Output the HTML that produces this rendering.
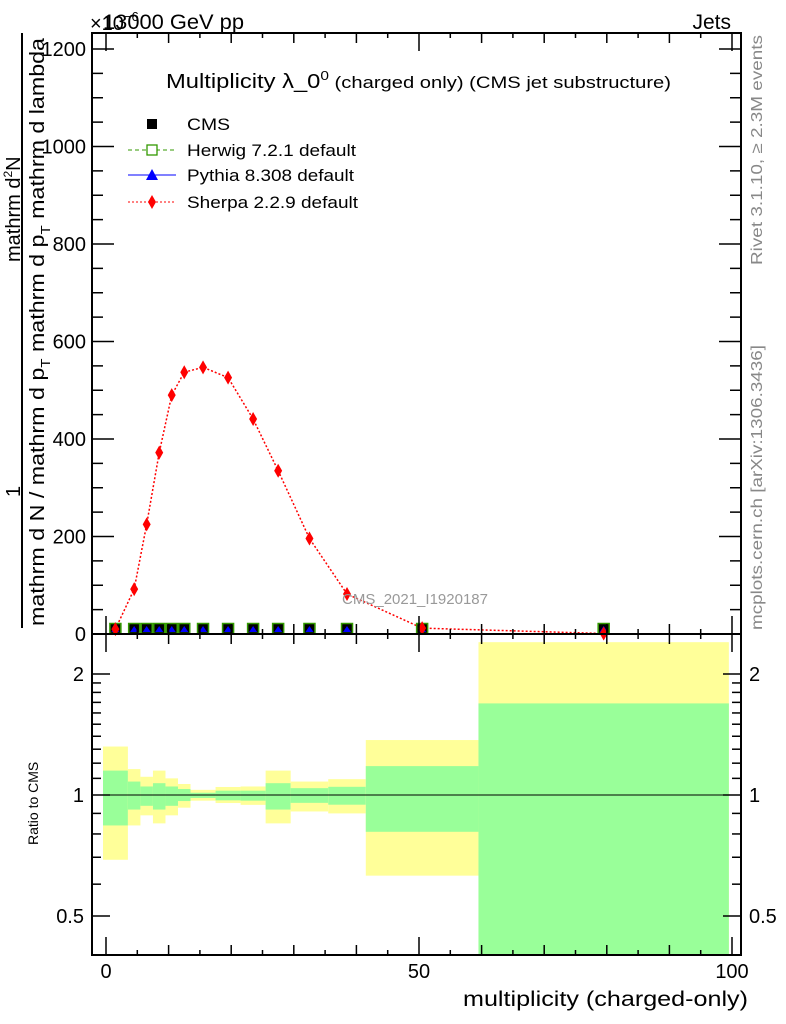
<!DOCTYPE html>
<html><head><meta charset="utf-8"><style>
html,body{margin:0;padding:0;background:#fff;}
svg{display:block;font-family:"Liberation Sans",sans-serif;}
</style></head><body>
<svg id="chart" width="786" height="1024" viewBox="0 0 786 1024" xmlns="http://www.w3.org/2000/svg">
<g id="bands"></g>
<g id="marks"></g>
<g id="axes"></g>
<text x="103" y="29" font-size="21" textLength="141" lengthAdjust="spacingAndGlyphs">13000 GeV pp</text>
<text x="90" y="30" font-size="20">×10<tspan font-size="13" dy="-9">−6</tspan></text>
<text x="731" y="29" font-size="21" text-anchor="end">Jets</text>
<text x="166" y="88" font-size="20" textLength="505" lengthAdjust="spacingAndGlyphs">Multiplicity λ_0<tspan font-size="13" dy="-8">0</tspan><tspan font-size="17" dy="8"> (charged only) (CMS jet substructure)</tspan></text>
<text x="415" y="604" font-size="15" fill="#999" text-anchor="middle">CMS_2021_I1920187</text>
<text transform="translate(762,265) rotate(-90)" font-size="16" fill="#888" textLength="230" lengthAdjust="spacingAndGlyphs">Rivet 3.1.10, ≥ 2.3M events</text>
<text transform="translate(762,630) rotate(-90)" font-size="16" fill="#888" textLength="285" lengthAdjust="spacingAndGlyphs">mcplots.cern.ch [arXiv:1306.3436]</text>
<g>
<line x1="22" y1="33" x2="22" y2="628" stroke="#000" stroke-width="2"/>
<text transform="translate(20,497) rotate(-90)" font-size="20">1</text>
<text transform="translate(20,262) rotate(-90)" font-size="20">mathrm d<tspan font-size="12" dy="-8">2</tspan><tspan dy="8">N</tspan></text>
<text transform="translate(44,626) rotate(-90)" font-size="20" textLength="588" lengthAdjust="spacingAndGlyphs">mathrm d N / mathrm d p<tspan font-size="13" dy="6">T</tspan><tspan dy="-6"> mathrm d p</tspan><tspan font-size="13" dy="6">T</tspan><tspan dy="-6"> mathrm d lambda</tspan></text>
</g>
<text transform="translate(38,845) rotate(-90)" font-size="14">Ratio to CMS</text>
<text x="748" y="1006" font-size="21" text-anchor="end" textLength="285" lengthAdjust="spacingAndGlyphs">multiplicity (charged-only)</text>
<g>
<g><rect x="147" y="119" width="10" height="10" fill="#000"/><text x="187" y="130" font-size="17" textLength="43" lengthAdjust="spacingAndGlyphs">CMS</text></g>
<g><line x1="128" y1="150" x2="176" y2="150" stroke="#390" stroke-dasharray="4,3"/><rect x="147" y="145" width="10" height="10" fill="#fff" stroke="#390" stroke-width="1.3"/><text x="187" y="156" font-size="17" textLength="169" lengthAdjust="spacingAndGlyphs">Herwig 7.2.1 default</text></g>
<g><line x1="128" y1="175" x2="176" y2="175" stroke="#00f"/><polygon points="152,169 158,180 146,180" fill="#00f"/><text x="187" y="181" font-size="17" textLength="167" lengthAdjust="spacingAndGlyphs">Pythia 8.308 default</text></g>
<g><line x1="128" y1="202" x2="176" y2="202" stroke="#f00" stroke-dasharray="2,2"/><polygon points="152,195 156,202 152,209 148,202" fill="#f00"/><text x="187" y="208" font-size="17" textLength="171" lengthAdjust="spacingAndGlyphs">Sherpa 2.2.9 default</text></g>
</g>
</svg>
<script>
const binEdges=[-0.5,3.5,5.5,7.5,9.5,11.5,13.5,17.5,21.5,25.5,29.5,35.5,41.5,59.5,99.5];
const binCenters=[1.5,4.5,6.5,8.5,10.5,12.5,15.5,19.5,23.5,27.5,32.5,38.5,50.5,79.5];
const cmsValues=[0,0,0,0,0,0,0,0,0,0,0,0,0,0];
const herwigValues=[0,0,0,0,0,0,0,0,0,0,0,0,0,0];
const pythiaValues=[0,0,0,0,0,0,0,0,0,0,0,0,0,0];
const sherpaValues=[10,92,225,372,490,537,547,526,441,335,196,82,12,1];
const totUp=[1.32,1.16,1.11,1.15,1.10,1.065,1.03,1.047,1.05,1.15,1.08,1.095,1.37,2.4];
const statUp=[1.15,1.08,1.05,1.07,1.05,1.035,1.013,1.025,1.025,1.07,1.04,1.048,1.18,1.69];
const statDn=[0.84,0.92,0.94,0.92,0.94,0.966,0.983,0.97,0.968,0.92,0.956,0.946,0.81,0.3];
const totDn=[0.69,0.84,0.89,0.85,0.89,0.93,0.968,0.955,0.945,0.85,0.91,0.90,0.63,0.3];
const yTicks=[0,200,400,600,800,1000,1200];
const xTicks=[0,50,100];
const rTicks=[0.5,1,2];

const NS='http://www.w3.org/2000/svg';
const L=92,R=741,T=33,MB=634,RB=955;
const X=v=>106+(v)*6.26;
const Y=v=>634-v*0.4875;
const RY=v=>Math.max(T,Math.min(RB,795-121*Math.log2(v)));
function mk(tag,attrs,parent){const e=document.createElementNS(NS,tag);for(const k in attrs)e.setAttribute(k,attrs[k]);parent.appendChild(e);return e;}
const bands=document.getElementById('bands'),marks=document.getElementById('marks'),axes=document.getElementById('axes');

for(let i=0;i<binCenters.length;i++){
  const x0=Math.max(X(binEdges[i]),L+11),x1=Math.min(X(binEdges[i+1]),R-10);
  const a=mk('rect',{x:x0,y:RY(totUp[i]),width:x1-x0,height:RY(totDn[i])-RY(totUp[i]),fill:'#ffff99'},bands);
  
  
  const b=mk('rect',{x:x0,y:RY(statUp[i]),width:x1-x0,height:RY(statDn[i])-RY(statUp[i]),fill:'#99ff99'},bands);
  
  
}
const rl=mk('line',{x1:L,y1:RY(1),x2:R,y2:RY(1),stroke:'#000','stroke-width':1},bands);



const pts=binCenters.map((c,i)=>X(c)+','+Y(sherpaValues[i])).join(' ');
const sl=mk('polyline',{points:pts,fill:'none',stroke:'#f00','stroke-width':1.5,'stroke-dasharray':'2,2'},marks);


for(let i=0;i<binCenters.length;i++){
  const x=X(binCenters[i]);
  const c=mk('rect',{x:x-5,y:Y(cmsValues[i])-10,width:10,height:9,fill:'#000'},marks);
  
  
  const h=mk('rect',{x:x-5.5,y:Y(herwigValues[i])-10.5,width:11,height:10,fill:'none',stroke:'#390','stroke-width':1.5},marks);
  
  
  const yp=Y(pythiaValues[i]);
  const p=mk('polygon',{points:`${x},${yp-8} ${x+4},${yp-2} ${x-4},${yp-2}`,fill:'#00f'},marks);
  
  
  const ys=Y(sherpaValues[i]);
  const s=mk('polygon',{points:`${x},${ys-7} ${x+4},${ys} ${x},${ys+7} ${x-4},${ys}`,fill:'#f00'},marks);
  
  
}

const f1=mk('rect',{x:L,y:T,width:R-L,height:MB-T,fill:'none',stroke:'#000','stroke-width':2},axes);


const f2=mk('rect',{x:L,y:MB,width:R-L,height:RB-MB,fill:'none',stroke:'#000','stroke-width':2},axes);


for(let v=0;v<=1200;v+=50){
  const y=Y(v),len=(v%200===0)?22:11;
  mk('line',{x1:L,y1:y,x2:L+len,y2:y,stroke:'#000','stroke-width':1.5},axes);
  mk('line',{x1:R,y1:y,x2:R-len,y2:y,stroke:'#000','stroke-width':1.5},axes);
}
yTicks.forEach(v=>{
  const t=mk('text',{x:L-6,y:Y(v)+7,'font-size':20,'text-anchor':'end'},axes);
  t.textContent=v;
  
  
});
for(let v=0;v<=100;v+=5){
  const x=X(v),len=v%50===0?18:(v%10===0?10:5);
  mk('line',{x1:x,y1:MB,x2:x,y2:MB-len,stroke:'#000','stroke-width':1.5},axes);
  mk('line',{x1:x,y1:T,x2:x,y2:T+len,stroke:'#000','stroke-width':1.5},axes);
  mk('line',{x1:x,y1:RB,x2:x,y2:RB-len,stroke:'#000','stroke-width':1.5},axes);
  mk('line',{x1:x,y1:MB,x2:x,y2:MB+len,stroke:'#000','stroke-width':1.5},axes);
}
xTicks.forEach(v=>{
  const t=mk('text',{x:X(v),y:978,'font-size':20,'text-anchor':'middle'},axes);
  t.textContent=v;
  
  
});
[0.4,0.5,0.6,0.7,0.8,0.9,1,1.1,1.2,1.3,1.4,1.5,1.6,1.7,1.8,1.9,2].forEach(v=>{
  const y=RY(v);if(y<=T||y>=RB)return;
  const len=rTicks.includes(v)?18:9;
  mk('line',{x1:L,y1:y,x2:L+len,y2:y,stroke:'#000','stroke-width':1.5},axes);
  mk('line',{x1:R,y1:y,x2:R-len,y2:y,stroke:'#000','stroke-width':1.5},axes);
});
rTicks.forEach(v=>{
  const t=mk('text',{x:L-8,y:RY(v)+7,'font-size':20,'text-anchor':'end'},axes);
  t.textContent=v;
  
  
  const t2=mk('text',{x:R+8,y:RY(v)+7,'font-size':20},axes);
  t2.textContent=v;
  
  
});
</script>
</body></html>
